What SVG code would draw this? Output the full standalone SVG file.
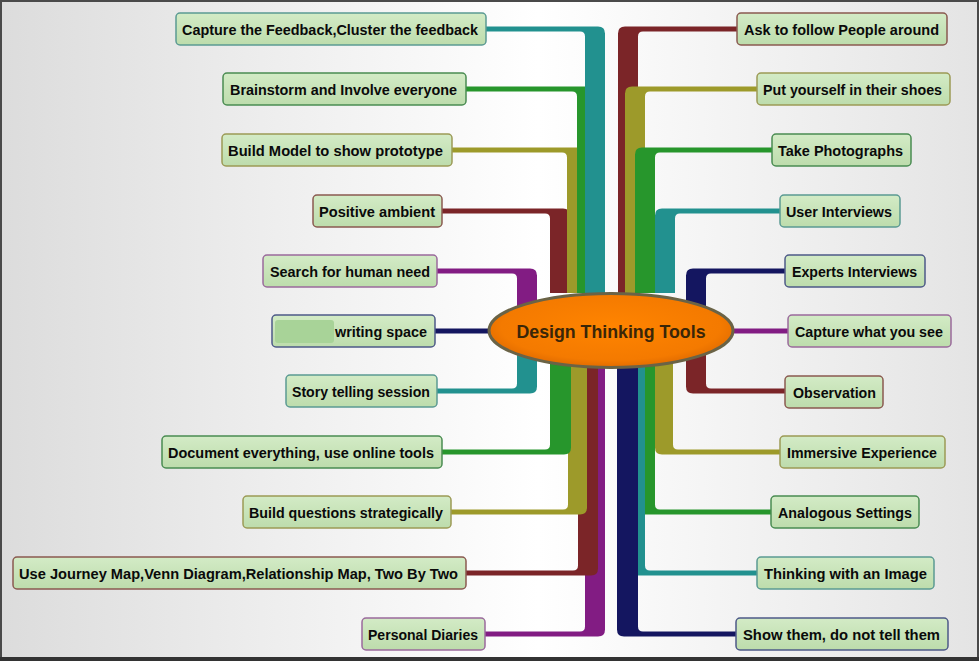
<svg xmlns="http://www.w3.org/2000/svg" width="979" height="661" viewBox="0 0 979 661">
<defs>
<linearGradient id="bg" x1="0" y1="0" x2="1" y2="0">
<stop offset="0" stop-color="#dcdcdc"/>
<stop offset="0.55" stop-color="#ffffff"/>
<stop offset="1" stop-color="#e4e4e4"/>
</linearGradient>
<linearGradient id="boxg" x1="0" y1="0" x2="0" y2="1">
<stop offset="0" stop-color="#d3ebc6"/>
<stop offset="1" stop-color="#bddcac"/>
</linearGradient>
<radialGradient id="og" cx="0.5" cy="0.45" r="0.6">
<stop offset="0" stop-color="#ff8400"/>
<stop offset="0.75" stop-color="#f47a00"/>
<stop offset="1" stop-color="#d86400"/>
</radialGradient>
</defs>
<style>
.box{fill:url(#boxg);stroke-width:1.5}
.t{font-family:"Liberation Sans",Arial,sans-serif;font-weight:bold;font-size:15px;fill:#0a0a0a}
.bTeal{stroke:#5b9a93}.bGreen{stroke:#4a8c52}.bOlive{stroke:#9c9a56}.bBrown{stroke:#8a5a50}.bPurple{stroke:#9a6a9c}.bNavy{stroke:#4e5a88}
.cTeal{fill:#22918f}.cGreen{fill:#27962c}.cOlive{fill:#9d9a2a}.cBrown{fill:#7b2528}.cPurple{fill:#821c83}.cNavy{fill:#141660}
</style>
<rect x="0" y="0" width="979" height="661" fill="url(#bg)"/>
<rect x="1" y="1" width="977" height="658" fill="none" stroke="#4a4a4a" stroke-width="2"/>
<line x1="0" y1="659" x2="979" y2="659" stroke="#333" stroke-width="4"/>

<g id="connectors">
<!-- left top -->
<path class="cBrown" d="M442,208.5 H563 Q570,208.5 570,215.5 V293 H550 V218.5 Q550,213.5 545,213.5 H442 Z"/>
<path class="cOlive" d="M452,147.5 H580 Q587,147.5 587,154.5 V293 H567 V157.5 Q567,152.5 562,152.5 H452 Z"/>
<path class="cGreen" d="M466,86.5 H590 Q597,86.5 597,93.5 V293 H577 V96.5 Q577,91.5 572,91.5 H466 Z"/>
<path class="cTeal" d="M486,26.5 H598 Q605,26.5 605,33.5 V293 H585 V36.5 Q585,31.5 580,31.5 H486 Z"/>
<!-- left middle -->
<path class="cPurple" d="M437,268.5 H530 Q537,268.5 537,275.5 V312 H517 V278.5 Q517,273.5 512,273.5 H437 Z"/>
<rect class="cNavy" x="435" y="328.5" width="65" height="5"/>
<path class="cTeal" d="M517,350 H537 V386.5 Q537,393.5 530,393.5 H437 V388.5 H512 Q517,388.5 517,383.5 Z"/>
<!-- left bottom -->
<path class="cPurple" d="M585,360 H605 V629.5 Q605,636.5 598,636.5 H485 V631.5 H580 Q585,631.5 585,626.5 Z"/>
<path class="cBrown" d="M578,360 H598 V568.5 Q598,575.5 591,575.5 H466 V570.5 H573 Q578,570.5 578,565.5 Z"/>
<path class="cOlive" d="M568,360 H587 V507.5 Q587,514.5 580,514.5 H451 V509.5 H563 Q568,509.5 568,504.5 Z"/>
<path class="cGreen" d="M550,360 H571 V447.5 Q571,454.5 564,454.5 H442 V449.5 H545 Q550,449.5 550,444.5 Z"/>
<!-- right top -->
<path class="cBrown" d="M737,26.5 H625 Q618,26.5 618,33.5 V293 H638 V36.5 Q638,31.5 643,31.5 H737 Z"/>
<path class="cOlive" d="M757,86.5 H632 Q625,86.5 625,93.5 V293 H645 V96.5 Q645,91.5 650,91.5 H757 Z"/>
<path class="cGreen" d="M772,147.5 H642 Q635,147.5 635,154.5 V293 H655 V157.5 Q655,152.5 660,152.5 H772 Z"/>
<path class="cTeal" d="M780,208.5 H662 Q655,208.5 655,215.5 V293 H675 V218.5 Q675,213.5 680,213.5 H780 Z"/>
<!-- right middle -->
<path class="cNavy" d="M785,268.5 H693 Q686,268.5 686,275.5 V312 H706 V278.5 Q706,273.5 711,273.5 H785 Z"/>
<rect class="cPurple" x="725" y="328.5" width="63" height="5"/>
<path class="cBrown" d="M706,350 H686 V386.5 Q686,393.5 693,393.5 H785 V388.5 H711 Q706,388.5 706,383.5 Z"/>
<!-- right bottom -->
<path class="cOlive" d="M673,360 H655 V447.5 Q655,454.5 662,454.5 H780 V449.5 H678 Q673,449.5 673,444.5 Z"/>
<path class="cGreen" d="M655,360 H635 V507.5 Q635,514.5 642,514.5 H771 V509.5 H660 Q655,509.5 655,504.5 Z"/>
<path class="cTeal" d="M645,360 H625 V568.5 Q625,575.5 632,575.5 H757 V570.5 H650 Q645,570.5 645,565.5 Z"/>
<path class="cNavy" d="M638,360 H617 V629.5 Q617,636.5 624,636.5 H736 V631.5 H643 Q638,631.5 638,626.5 Z"/>
</g>

<g id="center">
<ellipse cx="611" cy="330.5" rx="122" ry="37" fill="url(#og)" stroke="#6a6346" stroke-width="3"/>
<text x="611" y="337.5" text-anchor="middle" font-family="Liberation Sans,Arial,sans-serif" font-weight="bold" font-size="19" fill="#3a2608" textLength="189" lengthAdjust="spacingAndGlyphs">Design Thinking Tools</text>
</g>

<g id="n-l1"><rect class="box bTeal" x="176" y="13" width="310" height="32" rx="4"/><text class="t" x="182" y="34.5" textLength="296" lengthAdjust="spacingAndGlyphs">Capture the Feedback,Cluster the feedback</text></g>
<g id="n-l2"><rect class="box bGreen" x="223" y="73" width="243" height="32" rx="4"/><text class="t" x="230" y="94.5" textLength="227" lengthAdjust="spacingAndGlyphs">Brainstorm and Involve everyone</text></g>
<g id="n-l3"><rect class="box bOlive" x="222" y="134" width="230" height="32" rx="4"/><text class="t" x="228" y="155.5" textLength="215" lengthAdjust="spacingAndGlyphs">Build Model to show prototype</text></g>
<g id="n-l4"><rect class="box bBrown" x="313" y="195" width="129" height="32" rx="4"/><text class="t" x="319" y="216.5" textLength="116" lengthAdjust="spacingAndGlyphs">Positive ambient</text></g>
<g id="n-l5"><rect class="box bPurple" x="263" y="255" width="174" height="32" rx="4"/><text class="t" x="270" y="276.5" textLength="160" lengthAdjust="spacingAndGlyphs">Search for human need</text></g>
<g id="n-l6"><rect class="box bNavy" x="272" y="315" width="163" height="32" rx="4"/><rect x="275" y="320" width="59" height="23" rx="3" fill="#a8d398"/><text class="t" x="335" y="336.5" textLength="92" lengthAdjust="spacingAndGlyphs">writing space</text></g>
<g id="n-l7"><rect class="box bTeal" x="286" y="375" width="151" height="32" rx="4"/><text class="t" x="292" y="396.5" textLength="138" lengthAdjust="spacingAndGlyphs">Story telling session</text></g>
<g id="n-l8"><rect class="box bGreen" x="162" y="436" width="280" height="32" rx="4"/><text class="t" x="168" y="457.5" textLength="266" lengthAdjust="spacingAndGlyphs">Document everything, use online tools</text></g>
<g id="n-l9"><rect class="box bOlive" x="243" y="496" width="208" height="32" rx="4"/><text class="t" x="249" y="517.5" textLength="194" lengthAdjust="spacingAndGlyphs">Build questions strategically</text></g>
<g id="n-l10"><rect class="box bBrown" x="13" y="557" width="453" height="32" rx="4"/><text class="t" x="19" y="578.5" textLength="439" lengthAdjust="spacingAndGlyphs">Use Journey Map,Venn Diagram,Relationship Map, Two By Two</text></g>
<g id="n-l11"><rect class="box bPurple" x="362" y="618" width="123" height="32" rx="4"/><text class="t" x="368" y="639.5" textLength="110" lengthAdjust="spacingAndGlyphs">Personal Diaries</text></g>

<g id="n-r1"><rect class="box bBrown" x="737" y="13" width="210" height="32" rx="4"/><text class="t" x="744" y="34.5" textLength="195" lengthAdjust="spacingAndGlyphs">Ask to follow People around</text></g>
<g id="n-r2"><rect class="box bOlive" x="757" y="73" width="193" height="32" rx="4"/><text class="t" x="763" y="94.5" textLength="179" lengthAdjust="spacingAndGlyphs">Put yourself in their shoes</text></g>
<g id="n-r3"><rect class="box bGreen" x="772" y="134" width="139" height="32" rx="4"/><text class="t" x="778" y="155.5" textLength="125" lengthAdjust="spacingAndGlyphs">Take Photographs</text></g>
<g id="n-r4"><rect class="box bTeal" x="780" y="195" width="120" height="32" rx="4"/><text class="t" x="786" y="216.5" textLength="106" lengthAdjust="spacingAndGlyphs">User Interviews</text></g>
<g id="n-r5"><rect class="box bNavy" x="785" y="255" width="140" height="32" rx="4"/><text class="t" x="792" y="276.5" textLength="125" lengthAdjust="spacingAndGlyphs">Experts Interviews</text></g>
<g id="n-r6"><rect class="box bPurple" x="788" y="315" width="163" height="32" rx="4"/><text class="t" x="795" y="336.5" textLength="148" lengthAdjust="spacingAndGlyphs">Capture what you see</text></g>
<g id="n-r7"><rect class="box bBrown" x="785" y="376" width="98" height="32" rx="4"/><text class="t" x="793" y="397.5" textLength="83" lengthAdjust="spacingAndGlyphs">Observation</text></g>
<g id="n-r8"><rect class="box bOlive" x="780" y="436" width="165" height="32" rx="4"/><text class="t" x="787" y="457.5" textLength="150" lengthAdjust="spacingAndGlyphs">Immersive Experience</text></g>
<g id="n-r9"><rect class="box bGreen" x="771" y="496" width="148" height="32" rx="4"/><text class="t" x="778" y="517.5" textLength="134" lengthAdjust="spacingAndGlyphs">Analogous Settings</text></g>
<g id="n-r10"><rect class="box bTeal" x="757" y="557" width="177" height="32" rx="4"/><text class="t" x="764" y="578.5" textLength="163" lengthAdjust="spacingAndGlyphs">Thinking with an Image</text></g>
<g id="n-r11"><rect class="box bNavy" x="736" y="618" width="212" height="32" rx="4"/><text class="t" x="743" y="639.5" textLength="197" lengthAdjust="spacingAndGlyphs">Show them, do not tell them</text></g>
</svg>
